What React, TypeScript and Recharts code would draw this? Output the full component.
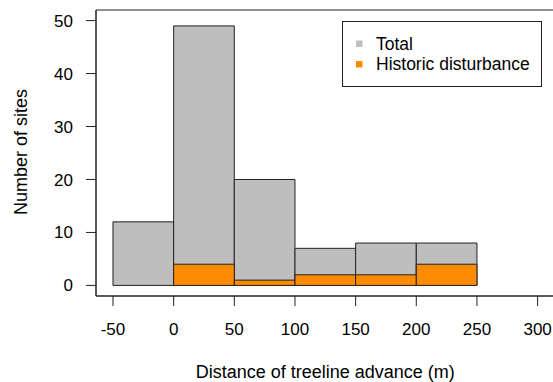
import React from 'react';
import { ComposedChart, XAxis, YAxis, ReferenceArea, Label } from 'recharts';

// histogram bins (m)
const binStart = [-50, 0, 50, 100, 150, 200];
const binEnd = [0, 50, 100, 150, 200, 250];
const totalSites = [12, 49, 20, 7, 8, 8];
const disturbedSites = [0, 4, 1, 2, 2, 4];

const xTicks = [-50, 0, 50, 100, 150, 200, 250, 300];
const yTicks = [0, 10, 20, 30, 40, 50];

const seriesNames = ['Total', 'Historic disturbance'];
const seriesColors = ['#bebebe', '#ff8c00'];

const font = '"Liberation Sans", Arial, sans-serif';
const tickFont = 17;
const titleFont = 18;
const legendFont = 17.5;
const edge = '#222';

const xDomain: [number, number] = [-64, 314];
const yDomain: [number, number] = [-2, 52];

const bins = binStart.map((start, i) => ({
    start,
    end: binEnd[i],
    total: totalSites[i],
    disturbed: disturbedSites[i],
}));

function LegendBox() {
    return (
        <svg width={200} height={66} style={{ position: 'absolute', left: 342, top: 20.5, display: 'block' }}>
            <rect x={0.5} y={0.5} width={199} height={65} fill="#fff" stroke={edge} />
            {seriesNames.map((name, i) => (
                <g key={name}>
                    <rect x={14} y={19.5 + i * 20.5} width={6.5} height={6.5} fill={seriesColors[i]} />
                    <text x={34} y={28.5 + i * 20.5} fontSize={legendFont} fontFamily={font} fill="#000">
                        {name}
                    </text>
                </g>
            ))}
        </svg>
    );
}

export default function App() {
    const tickStyle = { fill: '#000', fontSize: tickFont, fontFamily: font };

    return (
        <div style={{ position: 'absolute', left: 0, top: 0, width: 553, height: 382, overflow: 'hidden', background: '#fff' }}>
            <ComposedChart
                width={556}
                height={382}
                data={bins}
                margin={{ top: 10, right: 1.4, bottom: 0, left: 0 }}
            >
                <XAxis
                    type="number"
                    dataKey="start"
                    domain={xDomain}
                    ticks={xTicks}
                    allowDataOverflow
                    height={86}
                    tickSize={10}
                    tickMargin={17}
                    tick={tickStyle}
                    stroke={edge}
                    interval={0}
                >
                    <Label
                        value="Distance of treeline advance (m)"
                        position="insideBottom"
                        offset={4}
                        style={{ fill: '#000', fontSize: titleFont, fontFamily: font }}
                    />
                </XAxis>
                <YAxis
                    type="number"
                    domain={yDomain}
                    ticks={yTicks}
                    allowDataOverflow
                    width={96}
                    tickSize={10}
                    tickMargin={13}
                    tick={tickStyle}
                    stroke={edge}
                    interval={0}
                >
                    <Label
                        content={() => (
                            <text
                                x={27}
                                y={152}
                                transform="rotate(-90, 27, 152)"
                                textAnchor="middle"
                                fontSize={titleFont}
                                fontFamily={font}
                                fill="#000"
                            >
                                Number of sites
                            </text>
                        )}
                    />
                </YAxis>
                {/* plot frame */}
                <ReferenceArea
                    x1={xDomain[0]}
                    x2={xDomain[1]}
                    y1={yDomain[0]}
                    y2={yDomain[1]}
                    fill="none"
                    fillOpacity={0}
                    stroke={edge}
                    strokeWidth={1}
                />
                {bins.map((b) => (
                    <ReferenceArea
                        key={'t' + b.start}
                        x1={b.start}
                        x2={b.end}
                        y1={0}
                        y2={b.total}
                        fill={seriesColors[0]}
                        fillOpacity={1}
                        stroke={edge}
                        strokeWidth={1}
                    />
                ))}
                {bins
                    .filter((b) => b.disturbed > 0)
                    .map((b) => (
                        <ReferenceArea
                            key={'d' + b.start}
                            x1={b.start}
                            x2={b.end}
                            y1={0}
                            y2={b.disturbed}
                            fill={seriesColors[1]}
                            fillOpacity={1}
                            stroke={edge}
                            strokeWidth={1}
                        />
                    ))}
            </ComposedChart>
            <LegendBox />
        </div>
    );
}
